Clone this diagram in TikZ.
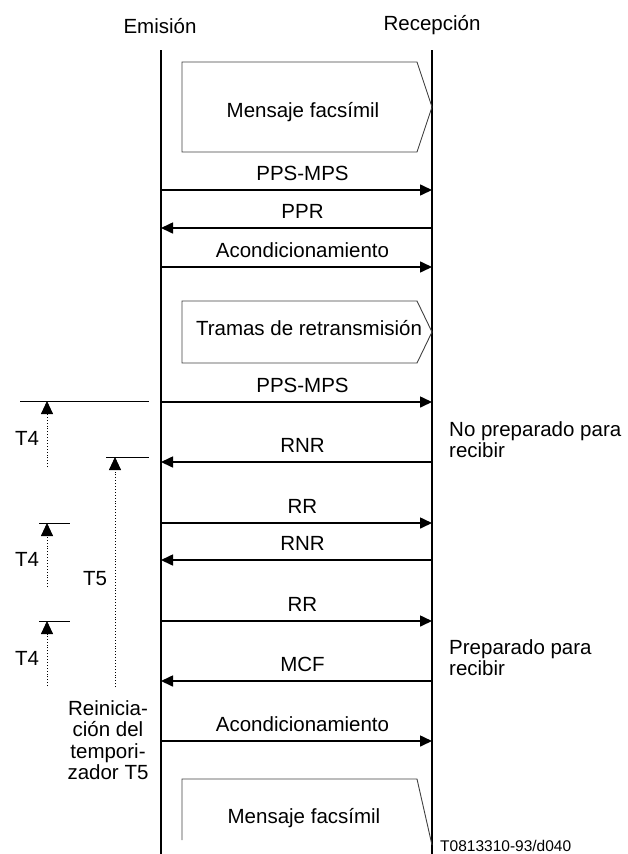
\documentclass[tikz,border=0pt]{standalone}
\usepackage{fontspec}
\setmainfont{Liberation Sans}
\usetikzlibrary{arrows.meta}

\begin{document}
\begin{tikzpicture}[x=1pt,y=-1pt,
  font=\fontsize{20.5}{21.5}\selectfont,
  life/.style={line width=2pt},
  msg/.style={line width=1.6pt,-{Triangle[length=12pt,width=11pt]}},
  lbl/.style={midway,anchor=base,yshift=10pt,xshift=6pt,inner sep=0pt},
  frame/.style={line width=0.9pt,draw=black!75,line join=miter},
  tick/.style={line width=0.9pt},
  timer/.style={line width=0.9pt,dotted,-{Triangle[length=13pt,width=12pt]}}]
\useasboundingbox (0,0) rectangle (628,854);
% lifelines
\node[anchor=base] (emision) at (160,33) {Emisión};
\node[anchor=base] (recepcion) at (432,30) {Recepción};
\coordinate (etop) at (161,50);
\coordinate (ebot) at (161,854);
\coordinate (rtop) at (432,50);
\coordinate (rbot) at (432,854);
\draw[life] (etop) -- (ebot);
\draw[life] (rtop) -- (rbot);
% message ends
\foreach \n/\y in {1/190,2/228,3/267,4/402,5/462,6/523,7/560,8/621,9/681,10/741}{
  \coordinate (e\n) at (161,\y);
  \coordinate (r\n) at (432,\y);
}
% frames
\draw[frame] (182,152) -- (182,62) -- (417,62) -- (432,107) -- (417,152) -- cycle;
\node[anchor=base] (fax1) at (303,117) {Mensaje facsímil};
\draw[frame] (182,363) -- (182,301) -- (417,301) -- (432,332) -- (417,363) -- cycle;
\node[anchor=base] (tramas) at (309,335) {Tramas de retransmisión};
\draw[frame] (182,840) -- (182,779) -- (417,779) -- (432,845);
\node[anchor=base] (fax2) at (304,823) {Mensaje facsímil};
% messages
\draw[msg] (e1) -- (r1) node[lbl] {PPS-MPS};
\draw[msg] (r2) -- (e2) node[lbl] {PPR};
\draw[msg] (e3) -- (r3) node[lbl] {Acondicionamiento};
\draw[msg] (e4) -- (r4) node[lbl] {PPS-MPS};
\draw[msg] (r5) -- (e5) node[lbl] {RNR};
\draw[msg] (e6) -- (r6) node[lbl] {RR};
\draw[msg] (r7) -- (e7) node[lbl] {RNR};
\draw[msg] (e8) -- (r8) node[lbl] {RR};
\draw[msg] (r9) -- (e9) node[lbl] {MCF};
\draw[msg] (e10) -- (r10) node[lbl] {Acondicionamiento};
% timers
\draw[tick] (20,401) -- (149,401);
\draw[timer] (47,467) -- (47,401);
\node[anchor=base] (t4a) at (27,445) {T4};
\draw[tick] (106,457) -- (149,457);
\draw[timer] (115,687) -- (115,457);
\node[anchor=base] (t5) at (95,585) {T5};
\draw[tick] (39,523) -- (70,523);
\draw[timer] (47,587) -- (47,523);
\node[anchor=base] (t4b) at (27,566) {T4};
\draw[tick] (39,621) -- (70,621);
\draw[timer] (47,686) -- (47,621);
\node[anchor=base] (t4c) at (27,665) {T4};
\node[anchor=north,align=center,inner sep=0pt] (reinicio) at (108,700)
  {Reinicia-\\ción del\\tempori-\\zador T5};
% states
\node[anchor=north west,align=left,inner sep=0pt] (noprep) at (449,421)
  {No preparado para\\recibir};
\node[anchor=north west,align=left,inner sep=0pt] (prep) at (449,639)
  {Preparado para\\recibir};
\node[anchor=base west,inner sep=0pt,font=\fontsize{15.5}{17}\selectfont] (codigo)
  at (440,851) {T0813310-93/d040};
\end{tikzpicture}
\end{document}
